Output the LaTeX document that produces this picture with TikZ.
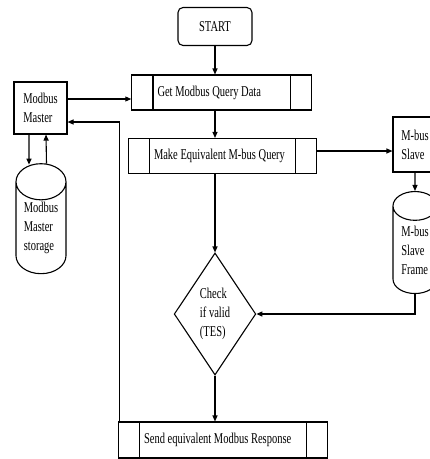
\documentclass[tikz,border=0pt]{standalone}
\usepackage{fontspec}
\setmainfont{Liberation Serif}[FakeStretch=0.7]
\usetikzlibrary{shapes.multipart, shapes.geometric, arrows.meta}

\begin{document}
\begin{tikzpicture}[x=1pt, y=-1pt,
    every node/.style={font=\fontsize{15}{19}\selectfont},
    term/.style={draw, rounded corners=5pt, minimum width=74pt, minimum height=38pt, line width=1.1pt},
    proc/.style={rectangle split, rectangle split horizontal, rectangle split parts=3,
                 rectangle split empty part width=16pt,
                 draw, minimum height=35pt, inner xsep=0pt, line width=1.1pt},
    box/.style={draw, align=left, inner sep=0pt, line width=1.1pt},
    drum/.style={cylinder, shape border rotate=90, aspect=1.05, draw, align=left,
                 inner sep=0pt, line width=1.1pt},
    dec/.style={diamond, draw, align=left, inner sep=0pt, minimum width=76pt,
                minimum height=122pt, line width=1.1pt},
    arrow/.style={-{Triangle[length=6pt, width=5pt]}, line width=1.1pt}
]
    \useasboundingbox (0,0) rectangle (430,459);

    \node[term] (start) at (215,26.5) {START};
    \node[proc] (get) at (221.5,92.5) {\nodepart{two}\makebox[136pt][l]{\hspace{4pt}Get Modbus Query Data}\nodepart{three}};
    \node[proc] (make) at (222.5,156) {\nodepart{two}\makebox[145pt][l]{\hspace{4pt}Make Equivalent M-bus Query}\nodepart{three}};
    \node[proc, minimum height=36pt] (send) at (223,440) {\nodepart{two}\makebox[166pt][l]{\hspace{4pt}Send equivalent Modbus Response}\nodepart{three}};

    \node[box, minimum width=53pt, minimum height=52pt] (master) at (40.5,108) {Modbus\\Master};
    \node[drum, minimum width=50pt, minimum height=110pt] (store) at (41,228) {Modbus\\Master\\storage};
    \node[box, minimum width=44pt, minimum height=55pt] (slave) at (415,144.5) {M-bus\\Slave};
    \node[drum, minimum width=44pt, minimum height=102pt] (frame) at (415,250) {M-bus\\Slave\\Frame};
    \node[dec] (chk) at (215,314) {Check\\if valid\\(TES)};

    % main flow
    \draw[arrow] (start) -- (start |- get.north);
    \draw[arrow] (get.south -| start) -- (make.north -| start);
    \draw[arrow] (make.south -| chk) -- (chk);
    \draw[arrow] (chk) -- (chk |- send.north);

    % master side
    \draw[arrow] ([yshift=9pt]master.east) -- ([yshift=9pt]master.east -| get.west);
    \draw[arrow] ([xshift=2pt]send.north west) |- ([yshift=-14pt]master.east);
    \draw[arrow] ([xshift=-11.5pt]master.south) -- ([xshift=-12pt,yshift=-1.5pt]store.north);
    \draw[arrow] ([xshift=5.5pt,yshift=-0.4pt]store.north) -- ([xshift=5.5pt]master.south);

    % slave side
    \draw[arrow] ([yshift=5pt]make.east) -- ([yshift=5pt]make.east -| slave.west);
    \draw[arrow] (slave) -- (frame);
    \draw[arrow] (frame.south) |- (chk.east);
\end{tikzpicture}
\end{document}
